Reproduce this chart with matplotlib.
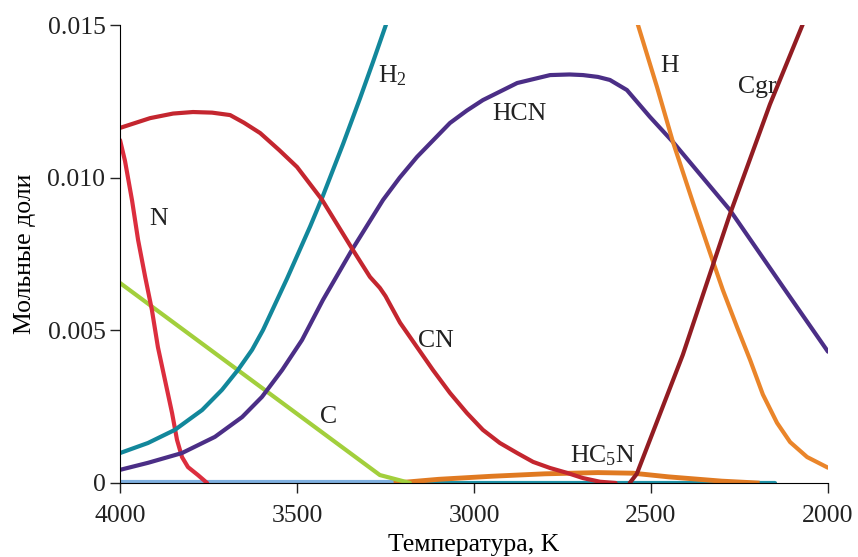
import numpy as np
import matplotlib
matplotlib.use("Agg")
import matplotlib.pyplot as plt
from matplotlib.ticker import FuncFormatter

plt.rcParams['font.family'] = ['Liberation Serif', 'DejaVu Serif']
plt.rcParams['mathtext.default'] = 'regular'

# mole fractions vs temperature
t_h2 = [4000, 3921, 3845, 3768, 3712, 3667, 3627, 3596, 3528, 3463, 3427, 3370, 3322, 3285, 3243]
h2 = [0.00098, 0.00131, 0.00174, 0.00239, 0.00305, 0.0037, 0.00436, 0.00501, 0.0067, 0.0084,
      0.0094, 0.0111, 0.0126, 0.0138, 0.0152]

t_hcn = [4000, 3921, 3825, 3732, 3655, 3599, 3542, 3486, 3427, 3345, 3257, 3210, 3161, 3068,
         3020, 2975, 2878, 2785, 2730, 2692, 2650, 2616, 2568, 2503, 2438, 2277, 2127, 2000]
hcn = [0.00043, 0.00066, 0.00098, 0.00151, 0.00216, 0.00282, 0.0037, 0.00468, 0.00599, 0.00763,
       0.00927, 0.0100, 0.01068, 0.01179, 0.0122, 0.01254, 0.0131, 0.01336, 0.01338, 0.01336,
       0.0133, 0.0132, 0.01287, 0.01199, 0.01117, 0.00894, 0.00642, 0.0043]

t_cn = [4000, 3915, 3850, 3794, 3740, 3689, 3650, 3604, 3550, 3500, 3429, 3342, 3294, 3266,
        3250, 3235, 3209, 3161, 3116, 3068, 3020, 2975, 2927, 2878, 2833, 2785, 2737, 2692,
        2644, 2600]
cn = [0.01163, 0.01195, 0.0121, 0.01215, 0.01213, 0.01205, 0.0118, 0.01146, 0.0109, 0.01035,
      0.00927, 0.00763, 0.00675, 0.00639, 0.00612, 0.0058, 0.00525, 0.00445, 0.0037, 0.00295,
      0.00229, 0.00174, 0.00131, 0.00098, 0.00069, 0.00049, 0.00033, 0.00016, 0.00004, 0.0]

t_n = [4000, 3986, 3966, 3949, 3929, 3910, 3893, 3873, 3853, 3839, 3825, 3808, 3780, 3754]
n = [0.01123, 0.01055, 0.00925, 0.00796, 0.00675, 0.00567, 0.00445, 0.00337, 0.00229, 0.00141,
     0.00085, 0.00052, 0.00026, 0.0]

t_c = [4000, 3266, 3181]
c = [0.00655, 0.00026, 0.0]

t_h = [2542, 2483, 2438, 2381, 2333, 2297, 2257, 2220, 2184, 2144, 2107, 2059, 2000]
h = [0.0152, 0.01297, 0.01117, 0.00917, 0.00753, 0.00632, 0.00511, 0.00403, 0.0029, 0.00197,
     0.00134, 0.00085, 0.0005]

t_cgr = [2560, 2540, 2410, 2277, 2164, 2065]
cgr = [0.0, 0.0003, 0.0042, 0.0088, 0.0124, 0.0152]

t_hc5n = [3220, 3100, 2950, 2800, 2650, 2550, 2450, 2300, 2200]
hc5n = [0.0, 0.00012, 0.00022, 0.0003, 0.00034, 0.00032, 0.0002, 0.00006, 0.0]

t_low1 = [4000, 3200]
low1 = [0.00002, 0.00002]
t_low2 = [3200, 2150]
low2 = [0.00001, 0.00001]

fig = plt.figure(figsize=(8.58, 5.57), dpi=100)
ax = fig.add_axes([0.1399, 0.1329, 0.8251, 0.8222])

lw = 3
kw = dict(lw=lw, solid_joinstyle='round', solid_capstyle='round')
ax.plot(t_low1, low1, color='#7fb0e0', **kw)
ax.plot(t_low2, low2, color='#1f93a8', **kw)
ax.plot(t_hc5n, hc5n, color='#e07a22', lw=lw + 0.5, solid_joinstyle='round')
ax.plot(t_c, c, color='#a2cf3c', **kw)
ax.plot(t_n, n, color='#dc2e3e', **kw)
ax.plot(t_h2, h2, color='#12879b', **kw)
ax.plot(t_hcn, hcn, color='#4b2e86', **kw)
ax.plot(t_cn, cn, color='#c4262f', **kw)
ax.plot(t_h, h, color='#ea852a', **kw)
ax.plot(t_cgr, cgr, color='#921c22', **kw)

fs = 18.5
ax.text(3271, 0.01313, 'H$_2$', fontsize=fs, color='#222222')
ax.text(2949, 0.01189, 'HCN', fontsize=fs, color='#222222')
ax.text(3918, 0.00845, 'N', fontsize=fs, color='#222222')
ax.text(3158, 0.00445, 'CN', fontsize=fs, color='#222222')
ax.text(3435, 0.00197, 'C', fontsize=fs, color='#222222')
ax.text(2729, 0.00066, 'HC$_5$N', fontsize=fs, color='#222222')
ax.text(2475, 0.01346, 'H', fontsize=fs, color='#222222')
ax.text(2254, 0.01277, 'Cgr', fontsize=fs, color='#222222')

ax.set_xlim(4000, 2000)
ax.set_ylim(0, 0.015)
ax.set_xticks([4000, 3500, 3000, 2500, 2000])
ax.set_yticks([0, 0.005, 0.010, 0.015])
ax.yaxis.set_major_formatter(FuncFormatter(lambda v, p: '0' if v == 0 else f'{v:.3f}'))
ax.tick_params(labelsize=fs, direction='out', length=7, width=1, colors='#222222')
ax.tick_params(axis='x', pad=9)
ax.spines['top'].set_visible(False)
ax.spines['right'].set_visible(False)
ax.set_xlabel('Температура, K', fontsize=fs, labelpad=5)
ax.set_ylabel('Мольные доли', fontsize=fs, labelpad=8)

fig.savefig('out.png', dpi=100)
